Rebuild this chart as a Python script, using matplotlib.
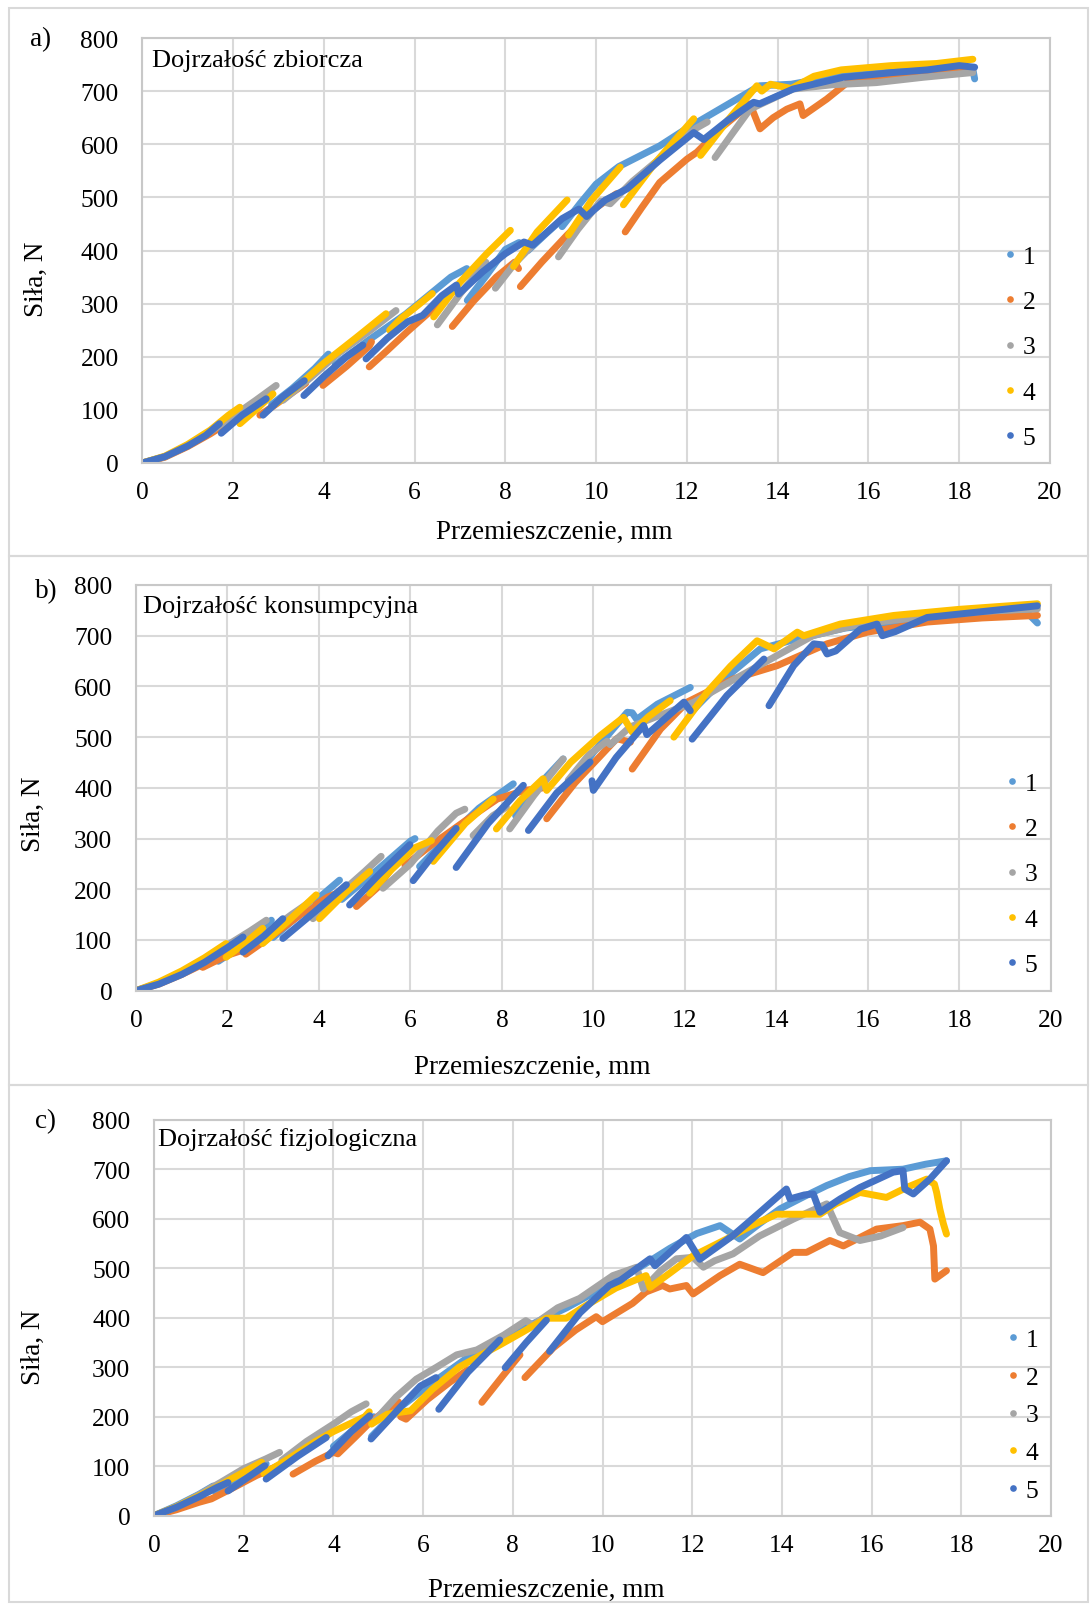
import numpy as np
import matplotlib
matplotlib.use("Agg")
import matplotlib.pyplot as plt
from matplotlib.lines import Line2D
from matplotlib.patches import Rectangle

plt.rcParams['font.family'] = ['Liberation Serif', 'DejaVu Serif']

nan = float('nan')

# ---------------- data: a) Dojrzałość zbiorcza ----------------
a1_x = [0, 0.5, 1.0, 1.5, 2.0, 2.5, 2.8, nan, 2.85, 3.3, 3.8, 4.1, nan,
        4.25, 5.0, 5.8, 6.4, 6.8, 7.15, nan, 7.16, 7.6, 8.0, 8.3, nan,
        8.5, 8.9, 9.21, 9.25, 9.65, 10.0, 10.5, 11.4, 12.0, 12.6, 13.6, 14.3,
        15.4, 16.5, 17.5, 18.3, 18.34]
a1_y = [0, 12, 33, 58, 86, 112, 127, nan, 110, 140, 178, 205, nan,
        185, 232, 280, 322, 350, 366, nan, 306, 355, 402, 415, nan,
        400, 432, 456, 445, 489, 525, 558, 597, 630, 660, 710, 713,
        730, 737, 739, 741, 723]

a2_x = [0, 0.5, 1.0, 1.5, 2.0, 2.4, nan, 2.59, 2.9, 3.3, 3.6, nan,
        3.98, 4.5, 5.0, 5.05, nan, 5.0, 5.4, 5.85, 6.3, 6.6, nan,
        6.83, 7.3, 7.8, 8.2, 8.29, nan, 8.33, 8.8, 9.36, 9.9, 10.45, nan,
        10.64, 11.0, 11.4, 12.0, 12.22, 12.73, 13.1, 13.39, 13.61, 13.9, 14.2,
        14.49, 14.56, 15.08, 15.59, 16.17, 16.8, 17.27, 18.3]
a2_y = [0, 11, 31, 55, 82, 103, nan, 90, 108, 132, 150, nan,
        146, 182, 220, 228, nan, 181, 212, 248, 282, 300, nan,
        257, 305, 350, 378, 366, nan, 332, 378, 429, 475, 507, nan,
        435, 480, 528, 572, 585, 629, 655, 676, 629, 650, 666,
        676, 654, 685, 720, 722, 728, 735, 741]

a3_x = [0, 0.5, 1.0, 1.5, 2.0, 2.5, 2.95, nan, 3.1, 3.7, 4.3, 5.0, 5.59, nan,
        6.5, 7.0, 7.57, nan, 7.78, 8.2, 8.6, nan,
        9.17, 9.6, 10.1, 10.31, 10.8, 11.5, 12.2, 12.45, nan,
        12.62, 13.0, 13.39, 14.34, 15.2, 16.17, 17.2, 18.3]
a3_y = [0, 12, 33, 59, 88, 118, 146, nan, 118, 160, 205, 248, 287, nan,
        260, 318, 378, nan, 329, 375, 410, nan,
        388, 440, 493, 488, 530, 580, 630, 642, nan,
        575, 620, 666, 704, 712, 716, 726, 735]

a4_x = [0, 0.5, 1.0, 1.5, 1.9, 2.15, nan, 2.15, 2.5, 2.88, nan,
        2.95, 3.5, 4.0, 4.7, 5.37, nan, 5.45, 5.7, 6.0, 6.39, nan,
        6.42, 7.0, 7.6, 8.11, nan, 8.18, 8.7, 9.36, nan, 9.39, 9.9, 10.53, nan,
        10.6, 11.3, 12.15, nan, 12.3, 12.9, 13.54, 13.65, 13.84, 14.3, 14.8,
        15.4, 16.5, 17.5, 18.3]
a4_y = [0, 13, 35, 62, 90, 105, nan, 74, 100, 130, nan,
        112, 150, 188, 235, 281, nan, 250, 272, 292, 319, nan,
        275, 340, 395, 438, nan, 370, 435, 495, nan, 429, 495, 557, nan,
        486, 565, 648, nan, 579, 645, 710, 700, 713, 705, 728,
        740, 748, 752, 760]

a5_x = [0, 0.5, 1.0, 1.4, 1.7, nan, 1.74, 2.2, 2.73, nan, 2.66, 3.1, 3.57, nan,
        3.56, 4.0, 4.5, 4.86, nan,
        4.93, 5.4, 5.85, 6.18, 6.6, 6.92, 6.97, 7.5, 8.0, 8.41, 8.6, 9.25, 9.62,
        9.79, 10.2, 10.68, 11.4, 12.15, 12.37, 12.9, 13.47, 13.6, 14.34, 15.44,
        16.54, 17.3, 18.0, 18.34]
a5_y = [0, 12, 32, 52, 74, nan, 56, 90, 121, nan, 90, 125, 155, nan,
        127, 163, 200, 222, nan,
        196, 235, 266, 278, 315, 335, 318, 360, 394, 416, 410, 460, 478,
        464, 495, 516, 570, 622, 609, 645, 679, 676, 704, 726,
        735, 740, 748, 745]

# ---------------- data: b) Dojrzałość konsumpcyjna ----------------
b1_x = [0, 0.5, 1.0, 1.5, 1.75, nan, 1.8, 2.3, 2.96, nan, 3.0, 3.7, 4.45, nan,
        4.5, 5.3, 6.0, 6.1, nan, 6.2, 6.8, 7.5, 8.25, nan, 8.3, 8.8, 9.34, nan,
        9.4, 10.0, 10.74, 10.85, 10.95, 11.4, 12.12, nan,
        12.2, 12.8, 13.65, 14.3, 15.5, 17.0, 18.5, 19.49, 19.71]
b1_y = [0, 14, 33, 57, 68, nan, 58, 88, 139, nan, 105, 160, 218, nan,
        180, 240, 295, 300, nan, 245, 300, 360, 408, nan, 345, 405, 457, nan,
        395, 470, 549, 548, 535, 565, 598, nan,
        555, 610, 674, 690, 715, 730, 742, 745, 725]

b2_x = [0, 0.5, 1.0, 1.46, nan, 1.46, 2.0, 2.34, nan, 2.4, 3.0, 3.6, 4.2, 4.6, nan,
        4.82, 5.3, 5.75, nan, 5.88, 6.5, 7.2, 7.9, 8.5, 8.9, nan,
        8.98, 9.6, 10.51, 10.81, nan,
        10.85, 11.47, 12.05, 13.07, 14.02, 14.5, 15.11, 15.99, 17.3, 18.5, 19.71]
b2_y = [0, 13, 32, 52, nan, 46, 70, 80, nan, 72, 110, 150, 185, 200, nan,
        166, 205, 262, nan, 247, 290, 335, 378, 395, 400, nan,
        339, 410, 497, 490, nan,
        437, 516, 569, 615, 641, 660, 684, 707, 727, 735, 740]

b3_x = [0, 0.5, 1.0, 1.5, 2.0, 2.5, 2.85, nan, 2.92, 3.4, 3.8, nan,
        3.87, 4.5, 5.0, 5.36, nan, 5.4, 6.0, 6.6, 7.0, 7.19, nan,
        7.37, 7.8, 8.1, nan, 8.17, 8.7, 9.34, nan,
        9.45, 9.9, 10.3, 10.37, 10.8, 12.2, 13.0, 14.02, 14.8, 15.84, 17.0,
        18.5, 19.71]
b3_y = [0, 15, 36, 61, 90, 118, 139, nan, 118, 150, 175, nan,
        142, 195, 235, 265, nan, 202, 250, 315, 350, 358, nan,
        306, 345, 362, nan, 319, 385, 457, nan,
        415, 465, 492, 485, 520, 569, 610, 661, 700, 723, 735,
        748, 753]

b4_x = [0, 0.5, 1.0, 1.5, 1.97, nan, 1.97, 2.4, 2.77, nan, 2.77, 3.3, 3.94, nan,
        4.01, 4.6, 5.11, nan, 5.11, 5.6, 6.1, 6.46, nan, 6.5, 7.2, 7.81, nan,
        7.88, 8.4, 8.9, 8.98, 9.5, 10.15, 10.66, 10.85, 11.2, 11.68, nan,
        11.76, 12.5, 13.0, 13.58, 13.95, 14.46, 14.6, 15.4, 16.57, 18.0, 19.71]
b4_y = [0, 17, 39, 65, 93, nan, 66, 95, 123, nan, 93, 135, 189, nan,
        142, 195, 235, nan, 192, 240, 282, 296, nan, 255, 330, 378, nan,
        319, 375, 418, 395, 450, 503, 539, 510, 540, 572, nan,
        500, 590, 640, 690, 674, 707, 700, 723, 740, 752, 763]

b5_x = [0, 0.5, 1.0, 1.5, 2.0, 2.34, nan, 2.34, 2.8, 3.21, nan, 3.21, 3.9, 4.6, nan,
        4.67, 5.3, 5.99, nan, 6.06, 6.5, 7.0, nan, 7.0, 7.7, 8.47, nan,
        8.58, 9.2, 9.93, nan, 9.97, 10.0, 10.5, 11.1, 11.17, 11.98, 12.12, nan,
        12.16, 12.92, 13.73, nan,
        13.84, 14.38, 14.82, 15.0, 15.11, 15.3, 15.84, 16.2, 16.32, 16.6, 17.3,
        18.76, 19.71]
b5_y = [0, 13, 32, 56, 85, 106, nan, 76, 108, 142, nan, 103, 155, 209, nan,
        169, 228, 288, nan, 217, 268, 320, nan, 243, 330, 405, nan,
        316, 390, 451, nan, 414, 395, 460, 523, 505, 569, 552, nan,
        496, 582, 654, nan,
        562, 641, 684, 682, 664, 670, 713, 723, 700, 708, 736,
        750, 759]

# ---------------- data: c) Dojrzałość fizjologiczna ----------------
c1_x = [0, 0.5, 1.0, 1.32, nan, 1.35, 2.0, 2.5, nan, 2.6, 3.2, 3.9, nan,
        4.0, 4.6, 4.9, nan,
        4.85, 5.5, 6.2, 7.0, 7.7, 8.5, 9.2, 10.0, 10.8, 11.5, 12.1, 12.62,
        13.06, 13.5, 13.96, 14.5, 15.0, 15.5, 15.97, 16.7, 17.2, 17.67]
c1_y = [0, 20, 43, 60, nan, 50, 80, 105, nan, 85, 125, 165, nan,
        140, 185, 200, nan,
        160, 220, 268, 320, 350, 390, 420, 460, 500, 540, 570, 586,
        559, 590, 620, 645, 667, 685, 697, 700, 710, 717]

c2_x = [0, 0.5, 1.0, 1.28, 1.8, 2.28, 2.7, 3.05, nan,
        3.1, 3.6, 4.0, 4.1, 4.5, 4.81, 5.2, 5.45, nan,
        5.5, 5.62, 6.1, 6.6, 7.0, nan, 7.31, 7.8, 8.16, nan,
        8.27, 8.9, 9.4, 9.86, 10.0, 10.67, 10.97, 11.34, 11.5, 11.87, 12.02,
        12.62, 13.06, 13.58, 14.25, 14.55, 15.07, 15.37, 16.11, 16.7, 17.08,
        17.3, 17.38, 17.41, 17.67]
c2_y = [0, 12, 27, 34, 58, 81, 98, 111, nan,
        84, 110, 128, 125, 160, 188, 215, 230, nan,
        200, 195, 235, 270, 295, nan, 229, 285, 325, nan,
        279, 339, 375, 402, 392, 429, 452, 465, 458, 465, 448,
        485, 508, 491, 532, 532, 556, 545, 579, 586, 593,
        579, 545, 478, 495]

c3_x = [0, 0.5, 1.0, 1.5, 2.0, 2.5, 2.8, nan, 2.85, 3.4, 4.0, 4.4, 4.73, nan,
        4.92, 5.4, 5.85, 6.3, 6.75, 7.2, 7.8, 8.29, 8.45, 9.0, 9.49, 10.23,
        10.67, 10.76, 10.91, 11.3, 11.65, 12.02, 12.25, 12.5, 12.91, 13.5,
        14.25, 15.0, 15.29, 15.74, 16.2, 16.7]
c3_y = [0, 18, 42, 68, 95, 115, 128, nan, 112, 150, 185, 210, 226, nan,
        192, 240, 276, 300, 325, 335, 365, 394, 385, 420, 439, 485,
        499, 502, 458, 495, 519, 522, 502, 515, 529, 565,
        599, 630, 572, 556, 565, 582]

c4_x = [0, 0.5, 1.0, 1.5, 2.0, 2.4, nan, 2.45, 3.0, 3.6, 4.0, 4.7, 4.8, nan,
        4.85, 5.2, 5.72, 6.2, 6.8, 7.3, 7.71, 8.2, 8.75, 9.19, 9.64, 10.3,
        10.97, 11.06, 11.5, 12.02, 12.77, 13.3, 13.88, 14.85, 15.2, 15.74,
        16.33, 16.78, 17.23, 17.4, 17.45, 17.52, 17.6, 17.67]
c4_y = [0, 18, 40, 63, 88, 108, nan, 85, 115, 150, 170, 200, 210, nan,
        185, 205, 212, 255, 300, 325, 345, 370, 399, 399, 425, 460,
        485, 461, 490, 525, 559, 585, 609, 609, 630, 653,
        643, 663, 680, 670, 653, 620, 590, 569]

c5_x = [0, 0.5, 1.0, 1.4, 1.65, nan, 1.65, 2.1, 2.47, nan, 2.5, 3.2, 3.84, nan,
        3.88, 4.4, 4.81, nan, 4.84, 5.5, 5.94, 6.29, nan, 6.35, 7.0, 7.71, nan,
        7.83, 8.3, 8.75, nan,
        8.82, 9.5, 10.15, 10.39, 11.06, 11.17, 11.87, 12.17, 12.91, 13.51, 14.1,
        14.18, 14.5, 14.7, 14.85, 15.3, 15.74, 16.48, 16.7, 16.74, 16.93, 17.3,
        17.67]
c5_y = [0, 17, 38, 57, 67, nan, 50, 78, 101, nan, 74, 120, 158, nan,
        121, 170, 202, nan, 155, 220, 262, 279, nan, 215, 290, 355, nan,
        299, 350, 395, nan,
        332, 410, 465, 475, 519, 505, 562, 518, 566, 613, 660,
        640, 648, 650, 613, 640, 663, 694, 697, 660, 650, 680,
        717]

series_names = ['1', '2', '3', '4', '5']
colors = ['#5B9BD5', '#ED7D31', '#A5A5A5', '#FFC000', '#4472C4']
titles = ['Dojrzałość zbiorcza', 'Dojrzałość konsumpcyjna', 'Dojrzałość fizjologiczna']
letters = ['a)', 'b)', 'c)']
x_ticks = [0, 2, 4, 6, 8, 10, 12, 14, 16, 18, 20]
y_ticks = [0, 100, 200, 300, 400, 500, 600, 700, 800]

panel_data = [
    [(a1_x, a1_y), (a2_x, a2_y), (a3_x, a3_y), (a4_x, a4_y), (a5_x, a5_y)],
    [(b1_x, b1_y), (b2_x, b2_y), (b3_x, b3_y), (b4_x, b4_y), (b5_x, b5_y)],
    [(c1_x, c1_y), (c2_x, c2_y), (c3_x, c3_y), (c4_x, c4_y), (c5_x, c5_y)],
]

W, H = 1091, 1606
fig = plt.figure(figsize=(W / 100, H / 100), dpi=100)


def fx(px):
    return px / W


def fy(py):
    return 1 - py / H


# pixel layout of each panel: plot area box, label spots, legend centre
boxes = [(142.3, 39, 1050, 464), (136, 586, 1050.7, 991.7), (154, 1120.7, 1051, 1516.7)]
frames = [(9, 9, 1088, 557), (9, 557, 1088, 1086), (9, 1086, 1088, 1603)]
xlabel_pos = [(554, 532), (532, 1067), (546, 1590)]
ylabel_pos = [(36, 279), (33, 814), (33, 1347)]
title_pos = [(152, 61), (143, 607), (158, 1140)]
letter_pos = [(41, 40), (46, 592), (46, 1122)]
legend_pos = [(1020, 348), (1022, 875), (1023, 1416)]
legend_space = [0.88, 0.88, 0.58]

grid_c = '#D9D9D9'

for i in range(3):
    l, t, r, b = frames[i]
    fig.add_artist(Rectangle((fx(l), fy(b)), fx(r - l), (b - t) / H,
                             transform=fig.transFigure, fill=False,
                             edgecolor=grid_c, lw=1.5))

    x0, y0, x1, y1 = boxes[i]
    ax = fig.add_axes([fx(x0), fy(y1), fx(x1 - x0), (y1 - y0) / H])

    for (xs, ys), c in zip(panel_data[i], colors):
        ax.plot(xs, ys, color=c, lw=5, solid_capstyle='round',
                solid_joinstyle='round')

    ax.set_xlim(0, 20)
    ax.set_ylim(0, 800)
    ax.set_xticks(x_ticks)
    ax.set_yticks(y_ticks)
    ax.grid(True, color=grid_c, lw=1.5)
    ax.set_axisbelow(True)
    for s in ax.spines.values():
        s.set_color('#C8C8C8')
        s.set_linewidth(1.5)
    ax.tick_params(length=0, labelsize=18.4)
    ax.tick_params(axis='y', pad=17)
    ax.tick_params(axis='x', pad=13)

    handles = [Line2D([], [], ls='none', marker='o', ms=4.8, color=c,
                      markeredgewidth=0) for c in colors]
    ax.legend(handles, series_names, loc='center',
              bbox_to_anchor=(fx(legend_pos[i][0]), fy(legend_pos[i][1])),
              bbox_transform=fig.transFigure, frameon=False, fontsize=18.4,
              handlelength=0.4, handletextpad=0.3, borderpad=0,
              labelspacing=legend_space[i])

    fig.text(fx(title_pos[i][0]), fy(title_pos[i][1]), titles[i],
             fontsize=19, ha='left', va='center')
    fig.text(fx(letter_pos[i][0]), fy(letter_pos[i][1]), letters[i],
             fontsize=19.5, ha='center', va='center')
    fig.text(fx(xlabel_pos[i][0]), fy(xlabel_pos[i][1]), 'Przemieszczenie, mm',
             fontsize=19.5, ha='center', va='center')
    fig.text(fx(ylabel_pos[i][0]), fy(ylabel_pos[i][1]), 'Siła, N',
             fontsize=19.5, ha='center', va='center', rotation=90)

fig.savefig('out.png', dpi=100)
